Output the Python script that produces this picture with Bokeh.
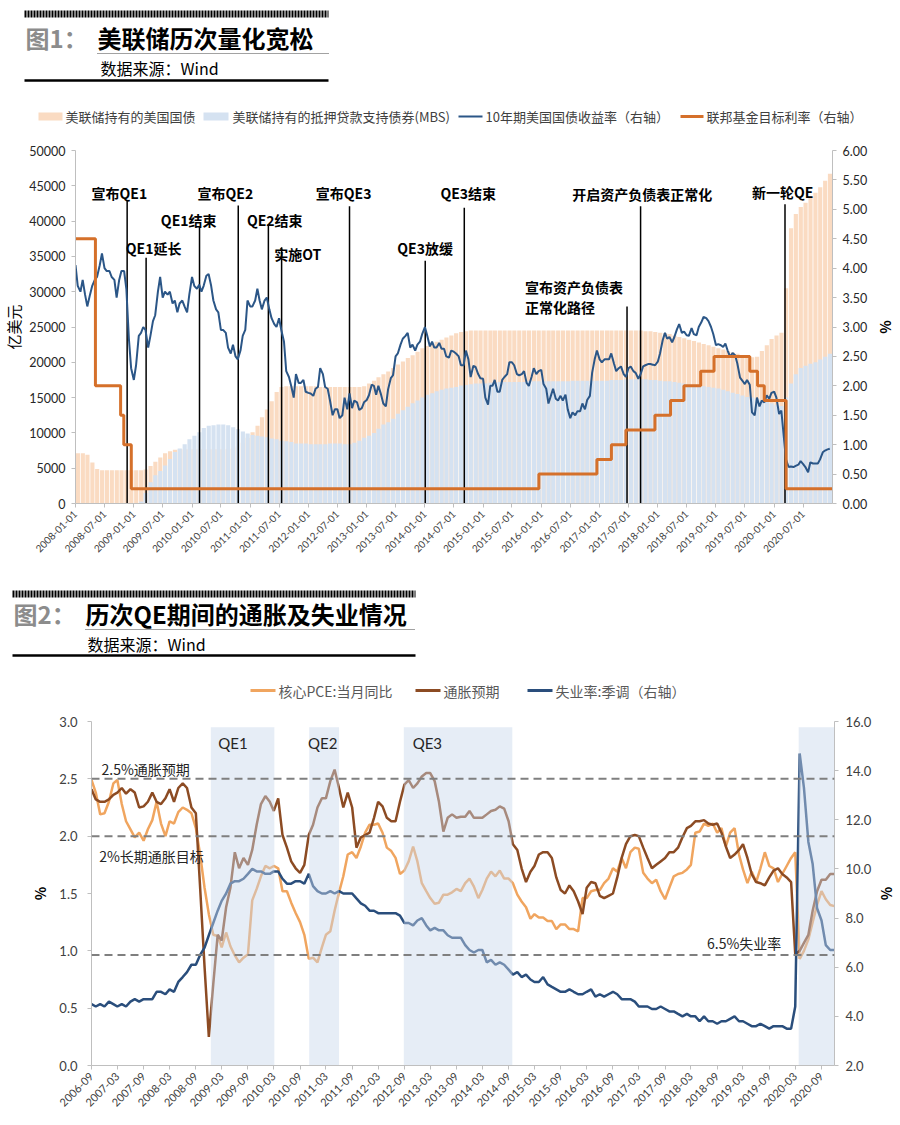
import math
import pandas as pd
from bokeh.plotting import figure
from bokeh.models import (Range1d, LinearAxis, FixedTicker, NumeralTickFormatter,
                          DatetimeTickFormatter, Span)
from bokeh.embed import file_html
from bokeh.resources import INLINE
from bokeh.core.properties import value

CJK = "Noto Sans CJK SC"
NUM = "Lato"

# ======================= Figure 1 data =======================
# Monthly Fed holdings (100 million USD), 2008-01 .. 2020-12
fed_treasury = [
    7100, 7100, 6900, 5800, 4900, 4700, 4700, 4700, 4700, 4700, 4700, 4700,
    4700, 4700, 4800, 5300, 5900, 6500, 7100, 7400, 7600, 7700, 7700, 7700,
    7700, 7700, 7700, 7700, 7700, 7700, 7700, 7750, 7900, 8100, 8600, 9300,
    10100, 11000, 12200, 13300, 14500, 15800, 16500, 16600, 16600, 16600, 16600, 16600,
    16600, 16600, 16500, 16500, 16500, 16500, 16500, 16500, 16500, 16500, 16500, 16600,
    17000, 17400, 17900, 18300, 18700, 19200, 19700, 20100, 20600, 21000, 21500, 22000,
    22300, 22600, 22900, 23200, 23500, 23800, 24100, 24300, 24400, 24500, 24500, 24500,
    24500, 24500, 24500, 24500, 24500, 24500, 24500, 24500, 24500, 24500, 24500, 24500,
    24500, 24500, 24500, 24500, 24500, 24500, 24500, 24500, 24500, 24500, 24500, 24500,
    24500, 24500, 24500, 24500, 24500, 24500, 24500, 24500, 24500, 24400, 24400, 24300,
    24200, 24100, 24000, 23800, 23600, 23400, 23200, 23000, 22800, 22600, 22400, 22200,
    22000, 21800, 21600, 21400, 21200, 21000, 20800, 20700, 20800, 21600, 22400, 23300,
    23800, 24200, 30500, 39000, 41000, 42000, 42600, 43300, 44000, 44800, 45700, 46700,
]
fed_mbs = [
    0, 0, 0, 0, 0, 0, 0, 0, 0, 0, 0, 0,
    0, 300, 1500, 3000, 4000, 4600, 5400, 6300, 7300, 7800, 8400, 9100,
    9600, 10100, 10700, 11000, 11100, 11200, 11200, 11100, 10800, 10500, 10200, 9900,
    9700, 9600, 9500, 9400, 9200, 9100, 8900, 8800, 8700, 8500, 8500, 8500,
    8400, 8400, 8400, 8400, 8500, 8500, 8500, 8400, 8400, 8600, 8900, 9300,
    9600, 10000, 10600, 11200, 11500, 12000, 12700, 13200, 13700, 14200, 14600, 15000,
    15400, 15600, 15900, 16100, 16300, 16400, 16500, 16700, 16800, 16900, 17000, 17000,
    17000, 17100, 17100, 17200, 17200, 17200, 17200, 17200, 17200, 17300, 17300, 17300,
    17300, 17300, 17300, 17300, 17300, 17300, 17400, 17400, 17400, 17400, 17400, 17400,
    17400, 17400, 17500, 17500, 17500, 17600, 17600, 17600, 17600, 17600, 17500, 17500,
    17400, 17300, 17300, 17200, 17100, 17000, 16900, 16800, 16700, 16600, 16500, 16400,
    16300, 16100, 15900, 15700, 15500, 15300, 15100, 15000, 14800, 14600, 14400, 14200,
    14000, 13800, 15000, 17000, 18300, 19200, 19500, 19800, 20000, 20400, 20800, 21200,
]
# 10-year Treasury yield (%), on the 1st and 15th of each month, 2008 .. 2020
ust10y = [
    4.05, 3.70, 3.60, 3.80, 3.55, 3.35, 3.55, 3.70, 3.80, 3.85, 4.05, 4.25,
    4.00, 3.95, 3.95, 3.85, 3.80, 3.50, 3.80, 3.95, 3.95, 3.65, 2.80, 2.30,
    2.10, 2.35, 2.85, 2.90, 3.00, 2.95, 2.65, 2.85, 3.10, 3.20, 3.60, 3.85,
    3.50, 3.60, 3.55, 3.60, 3.40, 3.45, 3.25, 3.40, 3.45, 3.35, 3.25, 3.55,
    3.85, 3.70, 3.65, 3.72, 3.60, 3.70, 3.87, 3.90, 3.70, 3.45, 3.30, 3.25,
    2.95, 2.95, 2.90, 2.65, 2.55, 2.70, 2.50, 2.45, 2.60, 2.85, 2.95, 3.45,
    3.35, 3.35, 3.45, 3.65, 3.45, 3.30, 3.45, 3.50, 3.30, 3.15, 3.05, 3.00,
    3.15, 2.95, 2.75, 2.25, 2.15, 2.00, 1.80, 2.20, 2.05, 2.05, 2.10, 1.90,
    1.88, 1.87, 1.83, 1.95, 1.98, 2.30, 2.20, 1.98, 1.95, 1.76, 1.50, 1.60,
    1.60, 1.45, 1.50, 1.80, 1.60, 1.87, 1.62, 1.75, 1.72, 1.59, 1.62, 1.72,
    1.76, 1.84, 2.02, 2.00, 1.85, 2.00, 1.85, 1.70, 1.65, 1.94, 2.13, 2.18,
    2.50, 2.55, 2.70, 2.80, 2.85, 2.90, 2.65, 2.70, 2.60, 2.70, 2.75, 2.88,
    3.00, 2.86, 2.67, 2.75, 2.65, 2.65, 2.73, 2.63, 2.63, 2.50, 2.48, 2.60,
    2.58, 2.55, 2.50, 2.35, 2.35, 2.60, 2.45, 2.15, 2.34, 2.32, 2.20, 2.13,
    2.12, 1.80, 1.68, 2.00, 2.00, 2.10, 1.90, 1.90, 2.10, 2.15, 2.20, 2.40,
    2.40, 2.35, 2.20, 2.18, 2.20, 2.25, 2.05, 2.00, 2.15, 2.30, 2.20, 2.25,
    2.27, 2.03, 1.95, 1.70, 1.83, 1.95, 1.78, 1.75, 1.83, 1.75, 1.85, 1.60,
    1.45, 1.55, 1.50, 1.57, 1.57, 1.70, 1.60, 1.76, 1.83, 2.22, 2.45, 2.60,
    2.45, 2.40, 2.45, 2.45, 2.45, 2.55, 2.38, 2.25, 2.30, 2.33, 2.20, 2.15,
    2.30, 2.33, 2.25, 2.22, 2.12, 2.20, 2.33, 2.35, 2.37, 2.37, 2.36, 2.35,
    2.41, 2.55, 2.78, 2.90, 2.80, 2.83, 2.74, 2.83, 2.96, 3.05, 2.90, 2.92,
    2.86, 2.85, 2.98, 2.88, 2.86, 3.00, 3.08, 3.17, 3.15, 3.10, 3.00, 2.88,
    2.69, 2.71, 2.69, 2.66, 2.72, 2.60, 2.49, 2.56, 2.52, 2.38, 2.14, 2.09,
    2.03, 2.10, 2.02, 1.55, 1.50, 1.80, 1.65, 1.75, 1.72, 1.84, 1.78, 1.88,
    1.90, 1.80, 1.52, 1.58, 1.15, 0.75, 0.62, 0.63, 0.62, 0.64, 0.66, 0.72,
    0.67, 0.62, 0.53, 0.70, 0.68, 0.68, 0.68, 0.75, 0.87, 0.90, 0.92, 0.93,
]
# Fed funds target rate (%), change dates
ff_dates = ["2008-01-01", "2008-05-05", "2008-10-10", "2008-10-30", "2008-12-16",
            "2015-12-17", "2016-12-15", "2017-03-16", "2017-06-15", "2017-12-14",
            "2018-03-22", "2018-06-14", "2018-09-27", "2018-12-20", "2019-08-01",
            "2019-09-19", "2019-10-31", "2020-03-16", "2020-12-31"]
ff_rates = [4.50, 2.00, 1.50, 1.00, 0.25, 0.50, 0.75, 1.00, 1.25, 1.50, 1.75,
            2.00, 2.25, 2.50, 2.25, 2.00, 1.75, 0.25, 0.25]
# Event markers
event_dates = ["2008-11-20", "2009-03-19", "2010-02-17", "2010-10-18", "2011-04-25",
               "2011-07-17", "2012-09-15", "2014-01-03", "2014-09-05", "2017-06-22",
               "2017-09-15", "2020-03-09"]
event_tops = [42900, 34800, 39200, 42200, 39400, 36300, 42100, 34400, 41900, 27900,
              42100, 42400]
event_labels = ["宣布QE1", "QE1延长", "QE1结束", "宣布QE2", "QE2结束", "实施OT",
                "宣布QE3", "QE3放缓", "QE3结束", "开启资产负债表正常化", "新一轮QE"]
event_label_dates = ["2008-10-02", "2009-05-05", "2009-12-11", "2010-07-29", "2011-06-04",
                     "2011-10-26", "2012-08-09", "2014-01-02", "2014-09-30", "2017-09-25",
                     "2020-02-24"]
event_label_vals = [44050, 36120, 40090, 44050, 40090, 35410, 44050, 36260, 44050, 43900,
                    44190]
path_labels = ["宣布资产负债表", "正常化路径"]
path_label_dates = ["2015-09-21", "2015-09-21"]
path_label_vals = [30600, 27900]
legend1_labels = ["美联储持有的美国国债", "美联储持有的抵押贷款支持债券(MBS)",
                  "10年期美国国债收益率（右轴）", "联邦基金目标利率（右轴）"]

# ======================= Figure 2 data =======================
# Monthly, 2006-09 .. 2020-12
core_pce = [
    2.49, 2.38, 2.19, 2.20,
    2.30, 2.46, 2.49, 2.28, 2.13, 2.06, 1.99, 2.03, 1.96, 2.06, 2.14, 2.30,
    2.11, 2.00, 2.13, 2.11, 2.21, 2.25, 2.23, 2.20, 2.07, 1.84, 1.55, 1.32,
    1.14, 1.13, 1.03, 1.16, 1.04, 0.96, 0.90, 0.94, 0.97, 1.44, 1.54, 1.65,
    1.74, 1.72, 1.74, 1.72, 1.52, 1.52, 1.42, 1.33, 1.25, 1.14, 0.93, 0.94,
    0.90, 1.03, 1.14, 1.17, 1.35, 1.51, 1.65, 1.84, 1.86, 1.81, 1.91, 2.03,
    2.10, 2.10, 2.11, 2.03, 1.90, 1.87, 1.81, 1.67, 1.70, 1.78, 1.91, 1.78,
    1.59, 1.52, 1.46, 1.41, 1.42, 1.49, 1.49, 1.51, 1.54, 1.52, 1.59, 1.63,
    1.56, 1.46, 1.53, 1.63, 1.69, 1.65, 1.70, 1.63, 1.63, 1.59, 1.49, 1.43,
    1.38, 1.28, 1.32, 1.29, 1.29, 1.26, 1.26, 1.19, 1.23, 1.23, 1.19, 1.19,
    1.17, 1.46, 1.46, 1.52, 1.53, 1.53, 1.59, 1.63, 1.72, 1.69, 1.81, 1.72,
    1.86, 1.90, 1.89, 1.68, 1.63, 1.59, 1.62, 1.52, 1.45, 1.55, 1.65, 1.67,
    1.68, 1.71, 1.75, 2.03, 2.04, 2.11, 2.09, 2.11, 2.03, 2.07, 1.91, 2.03,
    2.07, 1.84, 1.71, 1.59, 1.69, 1.60, 1.72, 1.86, 1.74, 1.72, 1.60, 1.67,
    1.74, 1.81, 1.86, 0.93, 1.00, 1.10, 1.25, 1.40, 1.52, 1.45, 1.40, 1.39,
]
infl_exp = [
    2.41, 2.32, 2.30, 2.30,
    2.32, 2.36, 2.38, 2.42, 2.37, 2.41, 2.38, 2.25, 2.26, 2.30, 2.38, 2.30,
    2.28, 2.33, 2.41, 2.30, 2.42, 2.46, 2.42, 2.25, 2.20, 1.55, 0.86, 0.25,
    0.71, 1.14, 1.09, 1.38, 1.55, 1.86, 1.72, 1.81, 1.75, 1.88, 2.10, 2.28,
    2.35, 2.30, 2.22, 2.33, 2.01, 1.90, 1.78, 1.72, 1.68, 1.75, 2.01, 2.10,
    2.25, 2.33, 2.33, 2.48, 2.58, 2.42, 2.25, 2.38, 2.25, 1.90, 1.99, 2.01,
    2.03, 2.16, 2.30, 2.26, 2.16, 2.13, 2.13, 2.30, 2.45, 2.49, 2.42, 2.46,
    2.52, 2.55, 2.55, 2.48, 2.30, 2.04, 2.16, 2.19, 2.16, 2.17, 2.17, 2.22,
    2.16, 2.16, 2.16, 2.19, 2.22, 2.23, 2.26, 2.24, 2.13, 1.93, 1.88, 1.72,
    1.60, 1.69, 1.74, 1.84, 1.86, 1.86, 1.81, 1.64, 1.53, 1.50, 1.57, 1.52,
    1.43, 1.32, 1.55, 1.60, 1.59, 1.48, 1.46, 1.48, 1.50, 1.64, 1.81, 1.93,
    2.00, 2.01, 2.00, 1.90, 1.81, 1.72, 1.75, 1.78, 1.81, 1.86, 1.86, 1.90,
    1.99, 2.07, 2.09, 2.13, 2.13, 2.14, 2.11, 2.10, 2.11, 2.03, 1.91, 1.81,
    1.84, 1.88, 1.93, 1.81, 1.67, 1.60, 1.59, 1.57, 1.64, 1.70, 1.72, 1.67,
    1.64, 1.60, 0.97, 1.00, 1.07, 1.14, 1.35, 1.52, 1.62, 1.62, 1.67, 1.67,
]
unemployment = [
    4.5, 4.4, 4.5, 4.4,
    4.6, 4.5, 4.4, 4.5, 4.4, 4.6, 4.7, 4.6, 4.7, 4.7, 4.7, 5.0,
    5.0, 4.9, 5.1, 5.0, 5.4, 5.6, 5.8, 6.1, 6.1, 6.5, 6.8, 7.3,
    7.8, 8.3, 8.7, 9.0, 9.4, 9.5, 9.5, 9.6, 9.8, 10.0, 9.9, 9.9,
    9.8, 9.8, 9.9, 9.9, 9.6, 9.4, 9.4, 9.5, 9.5, 9.4, 9.8, 9.3,
    9.1, 9.0, 9.0, 9.1, 9.0, 9.1, 9.0, 9.0, 9.0, 8.8, 8.6, 8.5,
    8.3, 8.3, 8.2, 8.2, 8.2, 8.2, 8.2, 8.1, 7.8, 7.8, 7.7, 7.9,
    8.0, 7.7, 7.5, 7.6, 7.5, 7.5, 7.3, 7.2, 7.2, 7.2, 6.9, 6.7,
    6.6, 6.7, 6.7, 6.2, 6.3, 6.1, 6.2, 6.1, 5.9, 5.7, 5.8, 5.6,
    5.7, 5.5, 5.4, 5.4, 5.6, 5.3, 5.2, 5.1, 5.0, 5.0, 5.1, 5.0,
    4.9, 4.9, 5.0, 5.1, 4.8, 4.9, 4.8, 4.9, 5.0, 4.9, 4.7, 4.7,
    4.7, 4.6, 4.4, 4.4, 4.4, 4.3, 4.3, 4.4, 4.3, 4.2, 4.2, 4.1,
    4.0, 4.1, 4.0, 4.0, 3.8, 4.0, 3.8, 3.8, 3.7, 3.8, 3.8, 3.9,
    4.0, 3.8, 3.8, 3.7, 3.6, 3.6, 3.7, 3.6, 3.5, 3.6, 3.6, 3.6,
    3.5, 3.5, 4.4, 14.7, 13.3, 11.1, 10.2, 8.4, 7.9, 6.9, 6.7, 6.7,
]
qe_names = ["QE1", "QE2", "QE3"]
qe_start = ["2008-12-15", "2010-11-04", "2012-08-28", "2020-03-25"]
qe_end = ["2010-03-05", "2011-06-01", "2014-09-27", "2020-12-01"]
qe_label_dates = ["2009-05-19", "2011-02-07", "2013-02-09"]
ref_labels = ["2.5%通胀预期", "2%长期通胀目标"]
ref_label_dates = ["2006-11-10", "2006-10-25"]
ref_label_vals = [2.59, 1.83]
legend2_labels = ["核心PCE:当月同比", "通胀预期", "失业率:季调（右轴）"]

# colours
C_TSY = "#FADBC2"
C_MBS = "#D5E2F1"
C_Y10 = "#2B5687"
C_FF = "#D5702A"
C_PCE = "#F0A55F"
C_EXP = "#8C4B23"
C_UNE = "#2A4E7C"

TS = pd.to_datetime
W = 900


def style_axis(ax, size, color="#404040"):
    ax.axis_line_color = "#BFBFBF"
    ax.major_tick_line_color = "#BFBFBF"
    ax.minor_tick_line_color = None
    ax.major_tick_out = 4
    ax.major_tick_in = 0
    ax.major_label_text_font = NUM
    ax.major_label_text_font_size = size
    ax.major_label_text_color = color
    ax.axis_label_text_font = CJK
    ax.axis_label_text_font_style = "normal"
    ax.axis_label_text_color = "#000000"


def dt_formatter(fmt):
    return DatetimeTickFormatter(
        microseconds=fmt, milliseconds=fmt, seconds=fmt, minsec=fmt, minutes=fmt,
        hourmin=fmt, hours=fmt, days=fmt, months=fmt, years=fmt,
        strip_leading_zeros=False)


def header(y0, y1):
    h = figure(width=W, height=y1 - y0, x_range=Range1d(0, W), y_range=Range1d(y1, y0),
               output_backend="svg", toolbar_location=None, min_border=0,
               x_axis_location=None, y_axis_location=None)
    h.outline_line_color = None
    h.grid.grid_line_color = None
    return h


# ======================= Header 1 =======================
h1 = header(0, 135)
h1.line([24, 328], [13.5, 13.5], line_width=7, line_dash="2 1", line_color="black")
h1.text(x=[25], y=[37], text=["图1："], text_font=value(CJK), text_font_size="24px",
        text_font_style="bold", text_color="#8C8C8C", text_align="left", text_baseline="middle")
h1.text(x=[97], y=[37], text=["美联储历次量化宽松"], text_font=value(CJK), text_font_size="24px",
        text_font_style="bold", text_color="black", text_align="left", text_baseline="middle")
h1.line([97, 328], [53, 53], line_width=1, line_dash="1 1", line_color="#444444")
h1.text(x=[100], y=[67], text=["数据来源：Wind"], text_font=value(CJK), text_font_size="16px",
        text_color="black", text_align="left", text_baseline="middle")
h1.line([24, 328], [80, 80], line_width=2.5, line_color="black")
h1.quad(left=[38, 203], right=[62, 228], top=[112, 112], bottom=[120, 120],
        fill_color=[C_TSY, C_MBS], line_color=None)
h1.segment(x0=[458, 680], y0=[116, 116], x1=[482, 703], y1=[116, 116],
           line_color=[C_Y10, C_FF], line_width=[2, 3])
h1.text(x=[65, 232, 485, 706], y=[116] * 4, text=legend1_labels, text_font=value(CJK),
        text_font_size="13px", text_color="#404040", text_align="left", text_baseline="middle")

# ======================= Chart 1 =======================
month_x = pd.date_range("2008-01-01", periods=len(fed_treasury), freq="MS") + pd.Timedelta(days=15)
semi_x = pd.date_range("2008-01-01", periods=len(ust10y), freq="SMS")

p1 = figure(width=W, height=445, x_axis_type="datetime",
            x_range=Range1d(TS("2008-01-01"), TS("2021-01-01")), y_range=Range1d(0, 50000),
            output_backend="svg", toolbar_location=None,
            min_border_left=73, min_border_right=68, min_border_top=15, min_border_bottom=77)
p1.outline_line_color = None
p1.grid.grid_line_color = None
p1.extra_y_ranges = {"r": Range1d(0, 6)}

bar_w = 26 * 86400000
p1.vbar(x=month_x, top=fed_treasury, bottom=0, width=bar_w, fill_color=C_TSY, line_color=None)
p1.vbar(x=month_x, top=fed_mbs, bottom=0, width=bar_w, fill_color=C_MBS, line_color=None)
ev = TS(event_dates)
p1.segment(x0=ev, y0=[0] * len(ev), x1=ev, y1=event_tops, line_color="black", line_width=1.5)
p1.line(semi_x, ust10y, y_range_name="r", line_color=C_Y10, line_width=2)
p1.step(TS(ff_dates), ff_rates, mode="after", y_range_name="r", line_color=C_FF, line_width=3)
p1.text(x=TS(event_label_dates), y=event_label_vals, text=event_labels, text_font=value(CJK),
        text_font_size="14px", text_font_style="bold", text_color="black",
        text_align="center", text_baseline="middle")
p1.text(x=TS(path_label_dates), y=path_label_vals, text=path_labels, text_font=value(CJK),
        text_font_size="14px", text_font_style="bold", text_color="black",
        text_align="left", text_baseline="middle")

x1_ticks = pd.date_range("2008-01-01", "2020-07-01", freq="6MS")
p1.xaxis.ticker = FixedTicker(ticks=[int(t.value // 10**6) for t in x1_ticks])
p1.xaxis.formatter = dt_formatter("%Y-%m-%d")
p1.xaxis.major_label_orientation = math.pi / 4
style_axis(p1.xaxis[0], "10px")
p1.yaxis.ticker = FixedTicker(ticks=list(range(0, 50001, 5000)))
p1.yaxis.formatter = NumeralTickFormatter(format="0")
p1.yaxis.axis_label = "亿美元"
style_axis(p1.yaxis[0], "12.5px", "#262626")
p1.yaxis.axis_label_text_font_size = "15px"
p1.yaxis.major_label_standoff = 6
p1.yaxis.axis_label_standoff = 2
ax_r1 = LinearAxis(y_range_name="r", ticker=FixedTicker(ticks=[i * 0.5 for i in range(13)]),
                   formatter=NumeralTickFormatter(format="0.00"), axis_label="%")
style_axis(ax_r1, "12.5px", "#262626")
ax_r1.axis_label_text_font_size = "14px"
ax_r1.axis_label_text_font_style = "bold"
ax_r1.major_label_standoff = 6
ax_r1.axis_label_standoff = 6
p1.add_layout(ax_r1, "right")

# ======================= Header 2 =======================
h2 = header(580, 705)
h2.line([12, 415], [593.5, 593.5], line_width=7, line_dash="2 1", line_color="black")
h2.text(x=[13], y=[613], text=["图2："], text_font=value(CJK), text_font_size="24px",
        text_font_style="bold", text_color="#8C8C8C", text_align="left", text_baseline="middle")
h2.text(x=[85], y=[613], text=["历次QE期间的通胀及失业情况"], text_font=value(CJK),
        text_font_size="24px", text_font_style="bold", text_color="black",
        text_align="left", text_baseline="middle")
h2.line([85, 415], [629, 629], line_width=1, line_dash="1 1", line_color="#444444")
h2.text(x=[87], y=[643], text=["数据来源：Wind"], text_font=value(CJK), text_font_size="16px",
        text_color="black", text_align="left", text_baseline="middle")
h2.line([12, 415], [655, 655], line_width=2.5, line_color="black")
h2.segment(x0=[250, 415, 527], y0=[690] * 3, x1=[275, 440, 552], y1=[690] * 3,
           line_color=[C_PCE, C_EXP, C_UNE], line_width=3)
h2.text(x=[278, 443, 555], y=[690] * 3, text=legend2_labels, text_font=value(CJK),
        text_font_size="14px", text_color="#595959", text_align="left", text_baseline="middle")

# ======================= Chart 2 =======================
m2 = pd.date_range("2006-09-01", periods=len(core_pce), freq="MS")
p2 = figure(width=W, height=417, x_axis_type="datetime",
            x_range=Range1d(TS("2006-09-01"), TS("2020-12-01")), y_range=Range1d(0, 3.0),
            output_backend="svg", toolbar_location=None,
            min_border_left=91, min_border_right=62, min_border_top=16, min_border_bottom=57)
p2.outline_line_color = None
p2.grid.grid_line_color = None
p2.extra_y_ranges = {"r": Range1d(2, 16)}

p2.line(m2, core_pce, line_color=C_PCE, line_width=2.5)
p2.line(m2, infl_exp, line_color=C_EXP, line_width=2.5)
p2.line(m2, unemployment, y_range_name="r", line_color=C_UNE, line_width=2.5)
p2.quad(left=TS(qe_start), right=TS(qe_end), bottom=0, top=2.95,
        fill_color="#C8D6EA", fill_alpha=0.45, line_color=None)
for loc, rng in [(2.5, "default"), (2.0, "default"), (6.5, "r")]:
    p2.add_layout(Span(location=loc, dimension="width", y_range_name=rng,
                       line_color="#7F7F7F", line_width=2, line_dash="8 5"))
p2.text(x=TS(ref_label_dates), y=ref_label_vals, text=ref_labels, text_font=value(CJK),
        text_font_size="14px", text_color="#262626", text_align="left", text_baseline="middle")
p2.text(x=[TS("2018-06-22")], y=[7.0], text=["6.5%失业率"], y_range_name="r",
        text_font=value(CJK), text_font_size="14px", text_color="#262626",
        text_align="left", text_baseline="middle")
p2.text(x=TS(qe_label_dates), y=[2.81] * 3, text=qe_names, text_font=value(NUM),
        text_font_size="15px", text_color="#262626", text_align="center", text_baseline="middle")

x2_ticks = pd.date_range("2006-09-01", "2020-09-01", freq="6MS")
p2.xaxis.ticker = FixedTicker(ticks=[int(t.value // 10**6) for t in x2_ticks])
p2.xaxis.formatter = dt_formatter("%Y-%m")
p2.xaxis.major_label_orientation = math.pi / 4
style_axis(p2.xaxis[0], "11px")
p2.yaxis.ticker = FixedTicker(ticks=[i * 0.5 for i in range(7)])
p2.yaxis.formatter = NumeralTickFormatter(format="0.0")
p2.yaxis.axis_label = "%"
style_axis(p2.yaxis[0], "13px", "#404040")
p2.yaxis.axis_label_text_font_size = "14px"
p2.yaxis.axis_label_text_font_style = "bold"
p2.yaxis.major_label_standoff = 10
p2.yaxis.axis_label_standoff = 6
ax_r2 = LinearAxis(y_range_name="r", ticker=FixedTicker(ticks=list(range(2, 17, 2))),
                   formatter=NumeralTickFormatter(format="0.0"), axis_label="%")
style_axis(ax_r2, "13px", "#404040")
ax_r2.axis_label_text_font_size = "14px"
ax_r2.axis_label_text_font_style = "bold"
ax_r2.major_label_standoff = 7
ax_r2.axis_label_standoff = 3
p2.add_layout(ax_r2, "right")

with open("out.html", "w") as f:
    f.write(file_html([h1, p1, h2, p2], INLINE))
